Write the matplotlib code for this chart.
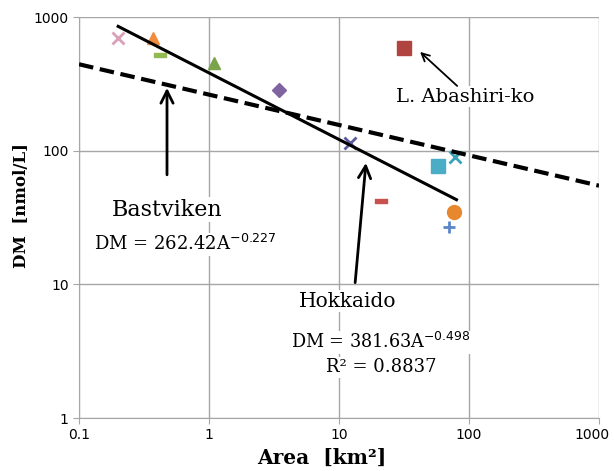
import numpy as np
import matplotlib
matplotlib.use("Agg")
import matplotlib.pyplot as plt
from matplotlib.path import Path
from matplotlib.transforms import ScaledTranslation

# lake data
area = [0.2, 0.37, 0.42, 1.09, 3.45, 12.2, 21.0, 58.0, 78.0, 77.0, 70.0, 31.6]
dm = [700, 700, 520, 454, 285, 115, 42, 77, 90, 35, 27, 590]
colors = ["#d9a0b8", "#f38b3c", "#93b952", "#7aa44a", "#8064a2", "#5a5aa0",
          "#c9504c", "#4bacc6", "#3aa2b8", "#e8882e", "#5b86c8", "#b0443f"]
markers = ["x", "^", "dash", "^", "D", "x", "dash", "s", "x", "o", "+", "s"]

# trend lines (end points)
hok_x = [0.2, 80]
hok_y = [851, 43]
bast_x = [0.1, 1000]
bast_y = [443, 54.7]

dash = Path([(-1, -0.42), (1, -0.42), (1, 0.42), (-1, 0.42), (-1, -0.42)],
            [Path.MOVETO, Path.LINETO, Path.LINETO, Path.LINETO, Path.CLOSEPOLY])

fig = plt.figure(figsize=(6.14, 4.71), dpi=100)
ax = fig.add_axes([0.1287, 0.1125, 0.847, 0.8514])
ax.set_xscale("log")
ax.set_yscale("log")
ax.set_xlim(0.1, 1000)
ax.set_ylim(1, 1000)

for i in range(len(area)):
    m = markers[i]
    if m == "dash":
        ax.plot(area[i], dm[i], marker=dash, ms=8, color=colors[i], ls="none", zorder=3)
    elif m in ("x", "+"):
        ax.plot(area[i], dm[i], marker=m, ms=8, mew=2, color=colors[i], ls="none", zorder=3)
    elif m == "D":
        ax.plot(area[i], dm[i], marker=m, ms=7, color=colors[i], ls="none", zorder=3)
    elif m == "s":
        ax.plot(area[i], dm[i], marker=m, ms=10.5, color=colors[i], ls="none", zorder=3)
    elif m == "o":
        ax.plot(area[i], dm[i], marker=m, ms=10, color=colors[i], ls="none", zorder=3)
    else:
        ax.plot(area[i], dm[i], marker=m, ms=9, color=colors[i], ls="none", zorder=3)

ax.plot(hok_x, hok_y, color="black", lw=2.2, zorder=4)
ax.plot(bast_x, bast_y, color="black", lw=3, ls=(0, (3.5, 1.6)), zorder=4)

ax.grid(True, which="major", color="#a6a6a6", lw=1)
ax.minorticks_off()
for s in ["top", "right"]:
    ax.spines[s].set_visible(False)
for s in ["left", "bottom"]:
    ax.spines[s].set_color("#a6a6a6")
ax.tick_params(axis="both", direction="out", length=4, color="#a6a6a6", labelsize=10)
ax.set_xticks([0.1, 1, 10, 100, 1000])
ax.set_xticklabels(["0.1", "1", "10", "100", "1000"])
ax.set_yticks([1, 10, 100, 1000])
ax.set_yticklabels(["1", "10", "100", "1000"])
# keep the last x label inside the figure
last = ax.get_xticklabels()[-1]
last.set_transform(last.get_transform() + ScaledTranslation(-5 / 72, 0, fig.dpi_scale_trans))

ax.set_xlabel("Area  [km²]", fontsize=14.5, fontweight="bold", family="DejaVu Serif")
ax.set_ylabel("DM  [nmol/L]", fontsize=12, fontweight="bold", family="DejaVu Serif")
ax.xaxis.set_label_coords(0.467, -0.075)
ax.yaxis.set_label_coords(-0.094, 0.531)

box = dict(facecolor="white", edgecolor="none", pad=1)
tkw = dict(family="DejaVu Serif", zorder=5, ha="center", va="center", bbox=box)
arr = dict(arrowstyle="->", color="black", shrinkA=0, shrinkB=0)

# labels
ax.text(94, 253, "L. Abashiri-ko", fontsize=14, **tkw)
ax.text(0.48, 36.3, "Bastviken", fontsize=16, **tkw)
ax.text(0.65, 19.9, "DM = 262.42A$^{-0.227}$", fontsize=13, **tkw)
ax.text(11.7, 7.46, "Hokkaido", fontsize=14.5, **tkw)
ax.text(21, 3.69, "DM = 381.63A$^{-0.498}$", fontsize=12.7, **tkw)
ax.text(21, 2.4, "R² = 0.8837", fontsize=13, **tkw)

# arrows
ax.annotate("", xy=(42, 548), xytext=(81, 305),
            arrowprops=dict(arr, lw=1.3, mutation_scale=14), zorder=5)
ax.annotate("", xy=(0.475, 295), xytext=(0.475, 66),
            arrowprops=dict(arr, lw=2, mutation_scale=22), zorder=5)
ax.annotate("", xy=(16.1, 81), xytext=(13.3, 10.3),
            arrowprops=dict(arr, lw=2, mutation_scale=22), zorder=5)

fig.savefig("out.png", dpi=100)
